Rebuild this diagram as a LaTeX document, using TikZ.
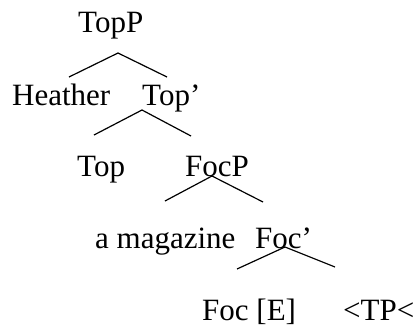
\documentclass[tikz,border=0pt]{standalone}
\usepackage{fontspec}
\setmainfont{Liberation Serif}
\usetikzlibrary{positioning}

\begin{document}
\begin{tikzpicture}[
    x=1pt, y=-1pt,
    font=\fontsize{31}{37}\selectfont,
    label/.style={anchor=base west, inner sep=0pt},
    branch/.style={line width=1.2pt}
]
\useasboundingbox (0,0) rectangle (418,327);

\node[label] (topp) at (78,32) {TopP};
\node[label] (heather) at (12,105) {Heather};
\node[label] (topbar) at (142,105) {Top’};
\node[label] (top) at (77,176) {Top};
\node[label] (focp) at (185,176) {FocP};
\node[label] (mag) at (95,248) {a magazine};
\node[label] (focbar) at (255,248) {Foc’};
\node[label] (foc) at (202,320) {Foc [E]};
\node[label] (tp) at (343,320) {<TP<};

% branch points
\coordinate (toppA) at (118,53);
\coordinate (toppL) at (69,77);
\coordinate (toppR) at (167,77);
\coordinate (topbarA) at (142,110);
\coordinate (topbarL) at (94,135);
\coordinate (topbarR) at (191,136);
\coordinate (focpA) at (212,176);
\coordinate (focpL) at (165,201);
\coordinate (focpR) at (263,202);
\coordinate (focbarA) at (285,247);
\coordinate (focbarL) at (237,269);
\coordinate (focbarR) at (335,267);

\draw[branch] (toppL) -- (toppA) -- (toppR);
\draw[branch] (topbarL) -- (topbarA) -- (topbarR);
\draw[branch] (focpL) -- (focpA) -- (focpR);
\draw[branch] (focbarL) -- (focbarA) -- (focbarR);
\end{tikzpicture}
\end{document}
